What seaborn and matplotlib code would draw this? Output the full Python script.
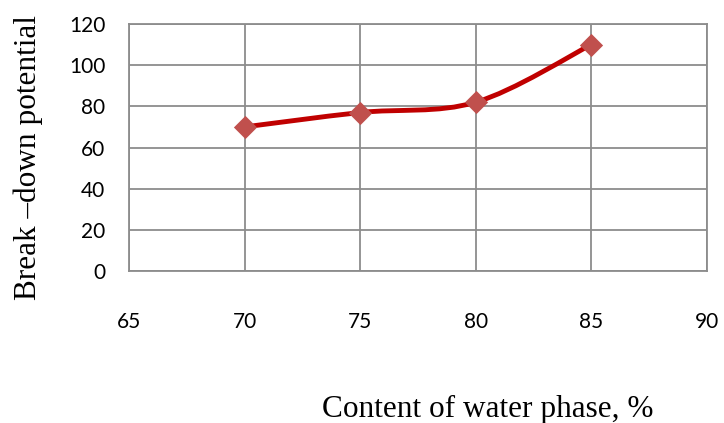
import numpy as np
import pandas as pd
import matplotlib
matplotlib.use("Agg")
import matplotlib.pyplot as plt
from matplotlib.path import Path
from matplotlib.patches import PathPatch
import seaborn as sns

# Data
water_content = [70, 75, 80, 85]
breakdown_potential = [70, 77, 82, 110]
x_ticks = [65, 70, 75, 80, 85, 90]
y_ticks = [0, 20, 40, 60, 80, 100, 120]
x_label = "Content of water phase, %"
y_label = "Break \u2013down potential"

sns.set_theme(style="white")
plt.rcParams['font.family'] = ['Lato', 'DejaVu Sans']

df = pd.DataFrame({"x": water_content, "y": breakdown_potential})

fig = plt.figure(figsize=(7.24, 4.23), dpi=100)
ax = fig.add_axes([129/724, 1-271/423, (707-129)/724, (271-24)/423])

grid_c = "#8c8c8c"

# Smoothed line (Excel-style Bezier through the data points)
xs = np.array(water_content, float)
ys = np.array(breakdown_potential, float)
n = len(xs)
verts = [(xs[0], ys[0])]
codes = [Path.MOVETO]
for i in range(n - 1):
    p0 = np.array([xs[max(i-1, 0)], ys[max(i-1, 0)]])
    p1 = np.array([xs[i], ys[i]])
    p2 = np.array([xs[i+1], ys[i+1]])
    p3 = np.array([xs[min(i+2, n-1)], ys[min(i+2, n-1)]])
    c1 = p1 + (p2 - p0) / 6.0
    c2 = p2 - (p3 - p1) / 6.0
    verts += [tuple(c1), tuple(c2), tuple(p2)]
    codes += [Path.CURVE4] * 3
patch = PathPatch(Path(verts, codes), facecolor="none", edgecolor="#C00000",
                  lw=3.5, capstyle="round", joinstyle="round", zorder=3)
ax.add_patch(patch)

sns.scatterplot(data=df, x="x", y="y", ax=ax, marker="D", s=140,
                color="#C0504D", edgecolor="#C0504D", linewidth=0, zorder=4, legend=False)

ax.set_xlim(65, 90)
ax.set_ylim(0, 120)
ax.set_xticks(x_ticks)
ax.set_yticks(y_ticks)
ax.set_xticklabels([str(t) for t in x_ticks])
ax.set_yticklabels([str(t) for t in y_ticks])
ax.grid(True, color=grid_c, lw=1.3)
ax.set_axisbelow(True)
for s in ax.spines.values():
    s.set_visible(True)
    s.set_color(grid_c)
    s.set_linewidth(1.3)
ax.tick_params(axis="x", length=0, pad=29.5, labelsize=15, colors="#000000")
ax.tick_params(axis="y", length=0, pad=17, labelsize=15, colors="#000000")

ax.set_xlabel(x_label, fontsize=22.5, family="Liberation Serif", color="black")
ax.set_ylabel(y_label, fontsize=22.5, family="Liberation Serif", color="black")
ax.xaxis.label.set_va("baseline")
ax.yaxis.label.set_va("center")
ax.xaxis.set_label_coords((488-129)/578, (271-417)/247)
ax.yaxis.set_label_coords((28-129)/578, (271-157)/247)

fig.savefig("out.png", dpi=100)
